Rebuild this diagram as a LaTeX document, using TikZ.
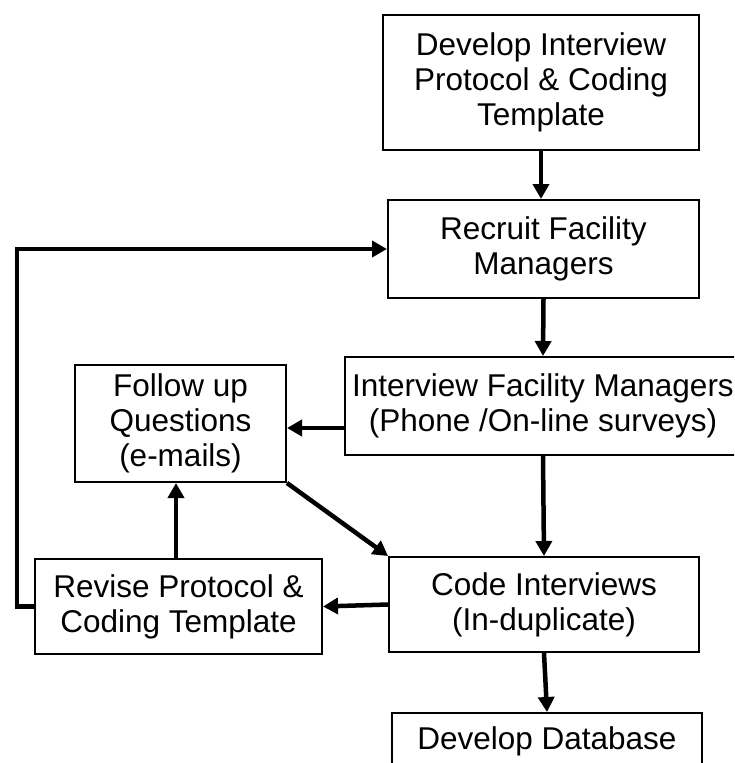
\documentclass[tikz,border=0pt]{standalone}
\usepackage{fontspec}
\setmainfont{Liberation Sans}
\usetikzlibrary{arrows.meta}
\begin{document}
\begin{tikzpicture}[x=1pt,y=-1pt,
 box/.style={draw,line width=2pt,align=center,inner sep=0pt,fill=white,font=\fontsize{31.5}{35}\selectfont},
 arr/.style={line width=4.5pt,line join=miter,-{Triangle[length=15pt,width=16pt]}}]
\useasboundingbox (0,0) rectangle (734,763);
\clip (0,0) rectangle (734,763);
\node[box,minimum width=316pt,minimum height=135pt] (dev) at (541,82.5) {Develop Interview\\Protocol \& Coding\\Template};
\node[box,minimum width=311pt,minimum height=98pt] (rec) at (543.5,249) {Recruit Facility\\Managers};
\node[box,minimum width=396pt,minimum height=98pt] (int) at (543,406) {Interview Facility Managers\\(Phone /On-line surveys)};
\node[box,minimum width=211pt,minimum height=117pt] (fol) at (180.5,423.5) {Follow up\\Questions\\(e-mails)};
\node[box,minimum width=310pt,minimum height=95pt] (cod) at (544,604.5) {Code Interviews\\(In-duplicate)};
\node[box,minimum width=287pt,minimum height=95pt] (rev) at (178.5,606.5) {Revise Protocol \&\\Coding Template};
\node[box,minimum width=310pt,minimum height=64pt] (db) at (547,745) {\raisebox{13pt}{Develop Database}};
\coordinate (c1) at (17,606.5);
\coordinate (c2) at (17,249);
\draw[arr] (dev.south) -- (dev.south |- rec.north);
\draw[arr] (rec.south) -- (int.north);
\draw[arr] (int.west |- 0,428) -- (fol.east |- 0,428);
\draw[arr] (int.south) -- (cod.north);
\draw[arr] (fol.south east) -- (cod.north west);
\draw[arr] (cod.west) -- (rev.east);
\draw[arr] ([xshift=-2.5pt]rev.north) -- ([xshift=-2.5pt]rev.north |- fol.south);
\draw[arr] (rev.west) -- (c1) -- (c2) -- (rec.west);
\draw[arr] (cod.south) -- (db.north);
\end{tikzpicture}
\end{document}
